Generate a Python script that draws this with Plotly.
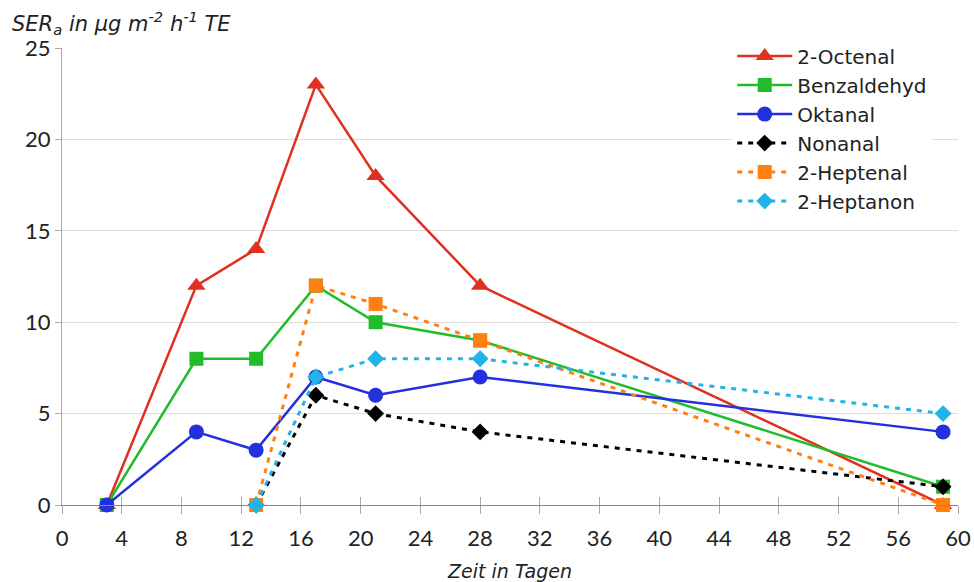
import plotly.graph_objects as go

days_all = [3, 9, 13, 17, 21, 28, 59]
days_late = [13, 17, 21, 28, 59]

octenal = [0, 12, 14, 23, 18, 12, 0]
benzaldehyd = [0, 8, 8, 12, 10, 9, 1]
oktanal = [0, 4, 3, 7, 6, 7, 4]
nonanal = [0, 6, 5, 4, 1]
heptenal = [0, 12, 11, 9, 0]
heptanon = [0, 7, 8, 8, 5]

x_ticks = list(range(0, 61, 4))
y_ticks = [0, 5, 10, 15, 20, 25]

FONT = "Lato, Open Sans, sans-serif"
WIDE = "DejaVu Sans, sans-serif"

fig = go.Figure()

def add(x, y, name, color, symbol, msize, dash):
    fig.add_trace(go.Scatter(
        x=x, y=y, name=name, mode="lines+markers",
        line=dict(color=color, width=2.5 if dash == "solid" else 3, dash=dash),
        marker=dict(color=color, symbol=symbol, size=msize),
        cliponaxis=False,
    ))

add(days_all, octenal, "2-Octenal", "#e03020", "triangle-up", 16, "solid")
add(days_all, benzaldehyd, "Benzaldehyd", "#22bb2a", "square", 14, "solid")
add(days_all, oktanal, "Oktanal", "#2230dd", "circle", 15, "solid")
add(days_late, nonanal, "Nonanal", "#000000", "diamond", 13, "5px,6px")
add(days_late, heptenal, "2-Heptenal", "#ff7f12", "square", 14, "5px,6px")
add(days_late, heptanon, "2-Heptanon", "#22b4e8", "diamond", 13, "5px,6px")

# invisible trace on overlay axis for inside ticks
fig.add_trace(go.Scatter(x=[0, 60], y=[0, 0], xaxis="x2", mode="lines",
                         line=dict(width=0), showlegend=False, hoverinfo="skip"))

fig.update_layout(
    width=974, height=582,
    margin=dict(l=62, r=16, t=48, b=77, autoexpand=False),
    plot_bgcolor="white", paper_bgcolor="white",
    font=dict(family=FONT, size=20, color="#222222"),
    xaxis=dict(range=[0, 60], tickvals=x_ticks, showgrid=False,
               showline=True, linecolor="#888888", linewidth=1,
               ticks="outside", ticklen=8, tickcolor="#aaaaaa",
               tickfont=dict(size=22), zeroline=False, ticklabelstandoff=6,
               title=dict(text="<i>Zeit in Tagen</i>", font=dict(family=WIDE, size=19),
                          standoff=14)),
    xaxis2=dict(range=[0, 60], overlaying="x", tickvals=x_ticks, showticklabels=False,
                ticks="inside", ticklen=8, tickcolor="#aaaaaa", showgrid=False,
                showline=False, zeroline=False, anchor="y"),
    yaxis=dict(range=[0, 25], tickvals=y_ticks, showgrid=True, gridcolor="#dddddd",
               showline=True, linecolor="#aaaaaa", linewidth=1, zeroline=False,
               ticks="outside", ticklen=6, tickcolor="#aaaaaa",
               tickfont=dict(size=22)),
    legend=dict(x=0.748, y=1.025, xanchor="left", yanchor="top",
                bgcolor="white", font=dict(family=WIDE, size=20), itemwidth=55,
                tracegroupgap=0),
    annotations=[dict(
        text="<i>SER<sub>a</sub> in µg m<sup>-2</sup> h<sup>-1</sup> TE</i>",
        xref="paper", yref="paper", x=-0.058, y=1.055, xanchor="left",
        yanchor="middle", showarrow=False,
        font=dict(family=WIDE, size=21, color="#222222"))],
)

fig.write_html("out.html", config={"displayModeBar": False},
               post_script="document.body.style.margin='0px';")
